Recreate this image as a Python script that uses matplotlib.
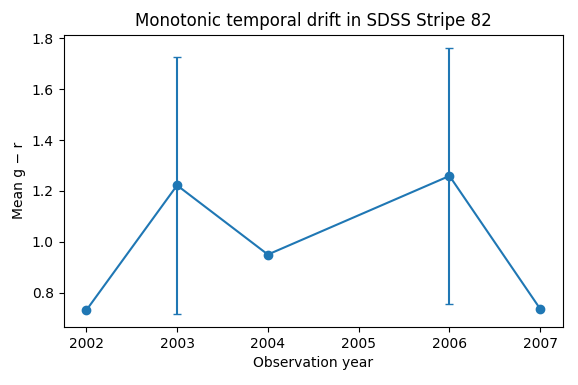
import matplotlib
matplotlib.use('agg')
import matplotlib.pyplot as plt

years = [2002, 2003, 2004, 2006, 2007]
mean_gr = [0.731, 1.222, 0.950, 1.259, 0.736]
err_gr = [0.0, 0.504, 0.0, 0.503, 0.0]


fig, ax = plt.subplots(figsize=(5.78, 3.85), dpi=100)
ax.errorbar(years, mean_gr, yerr=err_gr, marker='o', color='#1f77b4', capsize=3)
ax.set_title('Monotonic temporal drift in SDSS Stripe 82')
ax.set_xlabel('Observation year')
ax.set_ylabel('Mean g \u2212 r')
fig.subplots_adjust(left=0.110, right=0.974, top=0.910, bottom=0.151)
fig.savefig('out.png')
